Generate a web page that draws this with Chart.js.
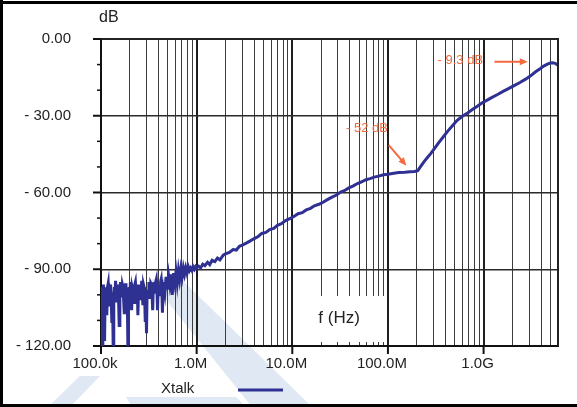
<!DOCTYPE html>
<html>
<head>
<meta charset="utf-8">
<script src="https://cdn.jsdelivr.net/npm/chart.js@4.4.1/dist/chart.umd.min.js"></script>
<style>
  html, body { margin: 0; padding: 0; background: #fff; }
  #wrap { width: 577px; height: 407px; position: relative; }
</style>
</head>
<body>
<div id="wrap"><canvas id="chart" width="577" height="407"></canvas></div>
<script>
// ── Data ──
const freqHz = [
    100e3, 101.5e3, 103e3, 104.5e3, 106e3, 107.5e3, 109e3, 110.5e3, 112e3, 113.5e3,
    115e3, 117e3, 119e3, 120.5e3, 122e3, 124e3, 126e3, 128e3, 130e3, 132e3,
    134e3, 136e3, 138e3, 140e3, 142e3, 144e3, 146e3, 148e3, 150e3, 152.5e3,
    155e3, 157.5e3, 160e3, 162.5e3, 165e3, 167.5e3, 170e3, 172.5e3, 175e3, 177.5e3,
    180e3, 182.5e3, 185e3, 188e3, 191e3, 194e3, 197e3, 200e3, 203e3, 206e3,
    209e3, 212e3, 215e3, 218.5e3, 222e3, 225.5e3, 229e3, 232.5e3, 236e3, 239.5e3,
    243e3, 246.5e3, 250e3, 254e3, 258e3, 262e3, 266e3, 270e3, 274e3, 278e3,
    282e3, 286e3, 290e3, 294.5e3, 299e3, 303.5e3, 308e3, 312.5e3, 317e3, 322e3,
    327e3, 332e3, 337e3, 342e3, 347e3, 352e3, 357e3, 362.5e3, 368e3, 373.5e3,
    379e3, 384.5e3, 390e3, 396e3, 402e3, 408e3, 414e3, 420e3, 426e3, 432.5e3,
    439e3, 445.5e3, 452e3, 466e3, 480e3, 494e3, 509e3, 524e3, 540e3, 556e3,
    573e3, 590e3, 608e3, 626e3, 645e3, 664e3, 684e3, 705e3, 726e3, 748e3,
    770e3, 793e3, 817e3, 842e3, 867e3, 893e3, 920e3, 948e3, 976e3,
    1.0e6, 1.05e6, 1.1e6, 1.16e6, 1.22e6, 1.3e6, 1.37e6, 1.45e6, 1.55e6, 1.65e6,
    1.75e6, 1.9e6, 2.0e6, 2.2e6, 2.4e6, 2.6e6, 2.8e6, 3.0e6, 3.3e6, 3.6e6,
    4.0e6, 4.4e6, 4.8e6, 5.3e6, 5.8e6, 6.4e6, 7.0e6, 7.7e6, 8.5e6, 9.4e6,
    10.3e6, 11.5e6, 12.7e6, 14e6, 15.5e6, 17e6, 19e6, 21e6, 23e6, 26e6,
    29e6, 32e6, 35e6, 39e6, 43e6, 48e6, 53e6, 59e6, 65e6, 72e6,
    80e6, 90e6, 100e6, 115e6, 130e6, 150e6, 170e6, 190e6, 205e6, 220e6,
    240e6, 260e6, 280e6, 310e6, 340e6, 380e6, 420e6, 470e6, 530e6, 600e6,
    680e6, 770e6, 860e6, 960e6, 1.08e9, 1.2e9, 1.4e9, 1.6e9, 1.8e9, 2.06e9,
    2.4e9, 2.75e9, 3.1e9, 3.5e9, 3.9e9, 4.25e9, 4.65e9, 5.0e9, 5.3e9, 5.6e9,
    5.96e9
];
const xtalkDb = [
    -101, -97, -120, -100, -96, -105, -118, -99, -97, -102,
    -108, -97, -95.5, -100, -104, -98, -96, -103, -111, -99,
    -120, -101, -97, -100, -94.5, -99, -103, -97, -96, -101,
    -112, -98, -95, -99, -101, -96, -97, -102, -107, -98,
    -95.5, -100, -104, -98, -120, -100, -97, -102, -95, -99,
    -106, -97, -98, -101, -103, -96, -95, -99, -100, -96,
    -108, -99, -96, -100, -102, -97, -94.5, -99, -104, -96,
    -97, -101, -110, -100, -115, -99, -98, -101, -95, -98,
    -101, -95.5, -96, -100, -106, -97, -95, -98, -99, -95,
    -94, -98, -106, -97, -96, -99, -100, -95, -94, -98,
    -107, -97, -95, -99, -93, -98, -92.5, -96, -92, -100,
    -91.5, -95, -91, -95.5, -90.5, -94, -90, -93, -89.5, -92,
    -89.5, -91.5, -89, -90.5, -89.5, -90.5, -89, -90, -89,
    -89.5, -88.8, -89.5, -88, -88.6, -87.3, -88.2, -86.5, -87, -85.6,
    -86.3, -84.5, -84, -83.4, -82.3, -82.5, -81, -80.6, -79.8, -79,
    -78, -77.2, -76, -75.6, -74.5, -74, -72.8, -72.2, -71, -70.2,
    -69.5, -68.3, -67.9, -66.8, -66.2, -65.2, -64.6, -63.8, -62.9, -61.8,
    -61, -59.8, -59.3, -58.2, -57.5, -56.5, -55.8, -55, -54.6, -54,
    -53.6, -53.1, -52.9, -52.5, -52.2, -52.1, -51.9, -51.8, -51.5, -49.8,
    -47.8, -46.2, -44.8, -42.6, -40.5, -38.2, -36.1, -34, -31.8, -30.2,
    -28.9, -27.5, -26.3, -25, -24, -23, -21.7, -20.5, -19.5, -18.3,
    -17, -15.7, -14.4, -12.8, -11.6, -10.6, -9.8, -9.4, -9.3, -9.5,
    -10.2
];

// ── Axes ──
const xMin = 1e5;
const xMax = 6e9;
const xDecades = [1e5, 1e6, 1e7, 1e8, 1e9];
const xDecadeLabels = ['100.0k', '1.0M', '10.0M', '100.0M', '1.0G'];
const xMinorSteps = [2, 3, 4, 5, 6, 7, 8, 9];

const yTicks = [-120, -110, -100, -90, -80, -70, -60, -50, -40, -30, -20, -10, 0];
const yMajor = [-120, -90, -60, -30, 0];
const yLabels = ['- 120.00', '- 90.00', '- 60.00', '- 30.00', '0.00'];

// ── Annotations (in data units) ──
const notes = [
    { text: '- 52 dB', at: [1.0e8, -35], align: 'right', from: [1.02e8, -41.5], to: [1.56e8, -49.5] },
    { text: '- 9.3 dB', at: [3.3e8, -8.2], align: 'left', from: [1.3e9, -8.9], to: [2.9e9, -8.9] }
];

const BLUE = '#2e3192';
const ORANGE = '#f26a3d';
const FONT = "'Liberation Sans', Arial, sans-serif";

// all grid positions on the x axis
const xGrid = [];
xDecades.forEach(d => {
    xGrid.push(d);
    xMinorSteps.forEach(m => { if (d * m <= xMax) xGrid.push(d * m); });
});
xGrid.push(xMax);

const isDecade = v => xDecades.some(d => Math.abs(d - v) / d < 1e-6);
const isYMajor = v => yMajor.includes(v);

// ── Decorations plugin ──
function arrow(c, x1, y1, x2, y2) {
    const a = Math.atan2(y2 - y1, x2 - x1);
    const hl = 8, hw = 3.5;
    c.beginPath();
    c.moveTo(x1, y1);
    c.lineTo(x2 - Math.cos(a) * hl * 0.8, y2 - Math.sin(a) * hl * 0.8);
    c.stroke();
    c.beginPath();
    c.moveTo(x2, y2);
    c.lineTo(x2 - Math.cos(a) * hl + Math.sin(a) * hw, y2 - Math.sin(a) * hl - Math.cos(a) * hw);
    c.lineTo(x2 - Math.cos(a) * hl - Math.sin(a) * hw, y2 - Math.sin(a) * hl + Math.cos(a) * hw);
    c.closePath();
    c.fill();
}

const decor = {
    id: 'decor',
    beforeDraw(chart) {
        const c = chart.ctx;
        c.save();
        c.fillStyle = '#fff';
        c.fillRect(0, 0, chart.width, chart.height);
        // faint watermark
        c.fillStyle = '#e0e8f4';
        [
            [[150, 280], [176, 274], [312, 407], [252, 407]],
            [[48, 407], [80, 376], [100, 376], [70, 407]],
            [[126, 397], [236, 397], [246, 407], [132, 407]]
        ].forEach(poly => {
            c.beginPath();
            poly.forEach(([px, py], i) => i ? c.lineTo(px, py) : c.moveTo(px, py));
            c.closePath();
            c.fill();
        });
        c.restore();
    },
    afterDraw(chart) {
        const c = chart.ctx;
        const xs = chart.scales.x, ys = chart.scales.y;
        const area = chart.chartArea;
        c.save();

        // top + right border of the plot
        c.strokeStyle = '#222';
        c.lineWidth = 2;
        c.beginPath();
        c.moveTo(area.left, area.top);
        c.lineTo(area.right, area.top);
        c.lineTo(area.right, area.bottom);
        c.stroke();

        // blank box behind the x title
        const bx1 = xs.getPixelForValue(1e7) + 1.5;
        const bx2 = xs.getPixelForValue(1e8) - 1.5;
        c.fillStyle = '#fff';
        c.fillRect(bx1, area.bottom - 50, bx2 - bx1, 46);
        c.fillStyle = '#222';
        c.font = '17px ' + FONT;
        c.textAlign = 'center';
        c.textBaseline = 'middle';
        c.fillText('f (Hz)', (bx1 + bx2) / 2 - 1, area.bottom - 28);

        // outside tick marks
        c.strokeStyle = '#111';
        yTicks.forEach(v => {
            const py = ys.getPixelForValue(v);
            const len = isYMajor(v) ? 8 : 4;
            c.lineWidth = isYMajor(v) ? 2 : 1.5;
            c.beginPath();
            c.moveTo(area.left - len, py);
            c.lineTo(area.left, py);
            c.stroke();
        });
        xDecades.forEach(v => {
            const px = xs.getPixelForValue(v);
            c.lineWidth = 2;
            c.beginPath();
            c.moveTo(px, area.bottom);
            c.lineTo(px, area.bottom + 8);
            c.stroke();
        });

        // y title
        c.fillStyle = '#222';
        c.font = '16px ' + FONT;
        c.textAlign = 'left';
        c.textBaseline = 'middle';
        c.fillText('dB', area.left - 2, 18);

        // annotations
        c.fillStyle = ORANGE;
        c.strokeStyle = ORANGE;
        c.lineWidth = 2;
        c.font = '13px ' + FONT;
        notes.forEach(n => {
            c.textAlign = n.align;
            c.textBaseline = 'middle';
            c.fillText(n.text, xs.getPixelForValue(n.at[0]), ys.getPixelForValue(n.at[1]));
            arrow(c,
                xs.getPixelForValue(n.from[0]), ys.getPixelForValue(n.from[1]),
                xs.getPixelForValue(n.to[0]), ys.getPixelForValue(n.to[1]));
        });

        // legend
        c.fillStyle = '#222';
        c.font = '15px ' + FONT;
        c.textAlign = 'left';
        c.textBaseline = 'middle';
        c.fillText('Xtalk', 161, 389);
        c.strokeStyle = BLUE;
        c.lineWidth = 3;
        c.beginPath();
        c.moveTo(238, 390);
        c.lineTo(283, 390);
        c.stroke();

        // outer frame
        c.fillStyle = '#000';
        c.fillRect(0, 1, chart.width, 3);
        c.fillRect(0, chart.height - 3, chart.width, 3);
        c.fillRect(0, 0, 3, chart.height);
        c.restore();
    }
};

// ── Chart ──
new Chart(document.getElementById('chart'), {
    type: 'line',
    data: {
        datasets: [{
            label: 'Xtalk',
            data: freqHz.map((f, i) => ({ x: f, y: xtalkDb[i] })),
            borderColor: BLUE,
            borderWidth: 3,
            pointRadius: 0,
            tension: 0,
            fill: false
        }]
    },
    options: {
        responsive: false,
        animation: false,
        events: [],
        layout: { padding: { top: 37, right: 19, left: 0, bottom: 0 } },
        plugins: { legend: { display: false }, tooltip: { enabled: false } },
        scales: {
            x: {
                type: 'logarithmic',
                min: xMin,
                max: xMax,
                afterBuildTicks: s => { s.ticks = xGrid.map(v => ({ value: v })); },
                afterFit: s => { s.height = 61; },
                border: { display: true, color: '#111', width: 2 },
                grid: {
                    drawTicks: false,
                    color: ctx => isDecade(ctx.tick.value) ? '#1e1e1e' : '#3c3c3c',
                    lineWidth: ctx => isDecade(ctx.tick.value) ? 2 : 1
                },
                ticks: {
                    autoSkip: false,
                    maxRotation: 0,
                    minRotation: 0,
                    padding: 9,
                    labelOffset: -6,
                    color: '#222',
                    font: { family: FONT, size: 15 },
                    callback: v => {
                        const i = xDecades.findIndex(d => Math.abs(d - v) / d < 1e-6);
                        return i >= 0 ? xDecadeLabels[i] : '';
                    }
                }
            },
            y: {
                type: 'linear',
                min: -120,
                max: 0,
                afterBuildTicks: s => { s.ticks = yTicks.map(v => ({ value: v })); },
                afterFit: s => { s.width = 101; },
                border: { display: true, color: '#111', width: 2 },
                grid: {
                    drawTicks: false,
                    color: ctx => isYMajor(ctx.tick.value) ? '#2a2a2a' : 'rgba(0,0,0,0)',
                    lineWidth: ctx => isYMajor(ctx.tick.value) ? 1.5 : 0
                },
                ticks: {
                    autoSkip: false,
                    padding: 30,
                    color: '#222',
                    font: { family: FONT, size: 15 },
                    callback: v => {
                        const i = yMajor.indexOf(v);
                        return i >= 0 ? yLabels[i] : '';
                    }
                }
            }
        }
    },
    plugins: [decor]
});
</script>
</body>
</html>
